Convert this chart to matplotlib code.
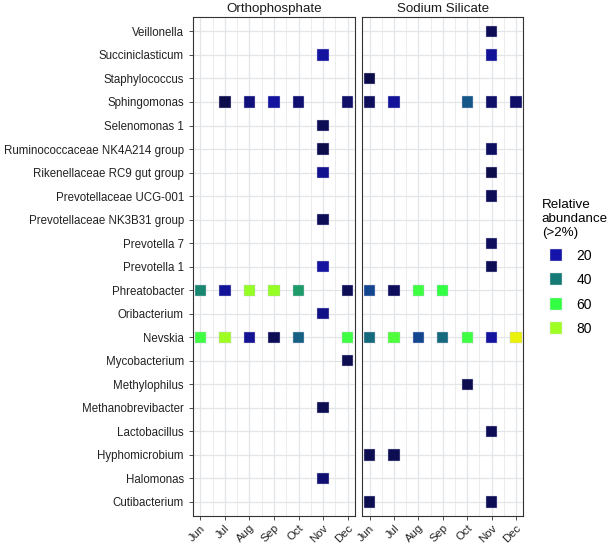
import matplotlib.pyplot as plt
import numpy as np
from matplotlib.colors import LinearSegmentedColormap
from matplotlib.lines import Line2D

plt.rcParams['font.family'] = ['Liberation Sans', 'DejaVu Sans']

months = ['Jun', 'Jul', 'Aug', 'Sep', 'Oct', 'Nov', 'Dec']
taxa = ['Cutibacterium', 'Halomonas', 'Hyphomicrobium', 'Lactobacillus',
        'Methanobrevibacter', 'Methylophilus', 'Mycobacterium', 'Nevskia',
        'Oribacterium', 'Phreatobacter', 'Prevotella 1', 'Prevotella 7',
        'Prevotellaceae NK3B31 group', 'Prevotellaceae UCG-001',
        'Rikenellaceae RC9 gut group', 'Ruminococcaceae NK4A214 group',
        'Selenomonas 1', 'Sphingomonas', 'Staphylococcus', 'Succiniclasticum',
        'Veillonella']

# Orthophosphate
ortho_taxa = ['Succiniclasticum', 'Sphingomonas', 'Sphingomonas', 'Sphingomonas', 'Sphingomonas',
              'Sphingomonas', 'Selenomonas 1', 'Ruminococcaceae NK4A214 group',
              'Rikenellaceae RC9 gut group', 'Prevotellaceae NK3B31 group', 'Prevotella 1',
              'Phreatobacter', 'Phreatobacter', 'Phreatobacter', 'Phreatobacter', 'Phreatobacter',
              'Phreatobacter', 'Oribacterium', 'Nevskia', 'Nevskia', 'Nevskia', 'Nevskia',
              'Nevskia', 'Nevskia', 'Mycobacterium', 'Methanobrevibacter', 'Halomonas']
ortho_months = ['Nov', 'Jul', 'Aug', 'Sep', 'Oct', 'Dec', 'Nov', 'Nov', 'Nov', 'Nov', 'Nov',
                'Jun', 'Jul', 'Aug', 'Sep', 'Oct', 'Dec', 'Nov',
                'Jun', 'Jul', 'Aug', 'Sep', 'Oct', 'Dec', 'Dec', 'Nov', 'Nov']
ortho_values = [18, 3, 12, 18, 10, 8, 5, 3, 15, 5, 18,
                42, 17, 78, 78, 45, 5, 14,
                62, 80, 16, 5, 35, 62, 4, 4, 10]

# Sodium Silicate
sodium_taxa = ['Veillonella', 'Succiniclasticum', 'Staphylococcus', 'Sphingomonas', 'Sphingomonas',
               'Sphingomonas', 'Sphingomonas', 'Sphingomonas', 'Ruminococcaceae NK4A214 group',
               'Rikenellaceae RC9 gut group', 'Prevotellaceae UCG-001', 'Prevotella 7',
               'Prevotella 1', 'Phreatobacter', 'Phreatobacter', 'Phreatobacter', 'Phreatobacter',
               'Nevskia', 'Nevskia', 'Nevskia', 'Nevskia', 'Nevskia', 'Nevskia', 'Nevskia',
               'Methylophilus', 'Lactobacillus', 'Hyphomicrobium', 'Hyphomicrobium',
               'Cutibacterium', 'Cutibacterium']
sodium_months = ['Nov', 'Nov', 'Jun', 'Jun', 'Jul', 'Oct', 'Nov', 'Dec', 'Nov', 'Nov', 'Nov',
                 'Nov', 'Nov', 'Jun', 'Jul', 'Aug', 'Sep',
                 'Jun', 'Jul', 'Aug', 'Sep', 'Oct', 'Nov', 'Dec',
                 'Oct', 'Nov', 'Jun', 'Jul', 'Jun', 'Nov']
sodium_values = [5, 17, 3, 6, 17, 33, 8, 8, 7, 3, 5, 6, 5,
                 30, 6, 62, 60,
                 37, 65, 30, 37, 62, 18, 95,
                 4, 5, 4, 4, 4, 5]

legend_values = [20, 40, 60, 80]

cmap = LinearSegmentedColormap.from_list(
    'abund', [(0.0, '#0b0b3b'), (0.2, '#1414aa'), (0.4, '#157a75'),
              (0.6, '#33ff44'), (0.8, '#a0ff22'), (1.0, '#ffee00')])

fig = plt.figure(figsize=(6.14, 5.46), dpi=100)
ax1 = fig.add_axes([0.3143, 0.0549, 0.2639, 0.9134])
ax2 = fig.add_axes([0.5900, 0.0549, 0.2623, 0.9134])

panels = [(ax1, 'Orthophosphate', ortho_taxa, ortho_months, ortho_values),
          (ax2, 'Sodium Silicate', sodium_taxa, sodium_months, sodium_values)]

for ax, title, tx, mo, va in panels:
    x = [months.index(m) for m in mo]
    y = [taxa.index(t) for t in tx]
    ax.scatter(x, y, c=va, cmap=cmap, vmin=0, vmax=100, marker='s', s=66,
               linewidths=0.3, edgecolors='#c8c8e0', zorder=3)
    ax.set_xlim(-0.3, 6.3)
    ax.set_ylim(-0.6, len(taxa) - 0.4)
    ax.set_xticks(range(len(months)))
    ax.set_xticks(np.arange(0.5, 6, 1), minor=True)
    ax.set_xticklabels(months, rotation=45, ha='right', rotation_mode='anchor', fontsize=8.2)
    ax.set_yticks(range(len(taxa)))
    ax.grid(True, which='major', color='#e2e6e8', lw=0.9, zorder=0)
    ax.grid(True, which='minor', axis='x', color='#e2e6e8', lw=0.5, zorder=0)
    ax.tick_params(which='minor', length=0)
    ax.tick_params(which='major', length=3, width=0.6, color='#333333', labelcolor='#222222')
    ax.tick_params(axis='x', pad=2)
    for sp in ax.spines.values():
        sp.set_color('#333333')
        sp.set_linewidth(0.8)
    ax.set_title(title, fontsize=9.6, color='#1a1a1a', pad=4)

ax1.set_yticklabels(taxa, fontsize=8.3)
ax2.set_yticklabels([])
ax2.tick_params(axis='y', length=0)

handles = [Line2D([0], [0], marker='s', ls='', markersize=8,
                  markerfacecolor=cmap(v / 100), markeredgecolor='#dddddd', markeredgewidth=0.3)
           for v in legend_values]
leg = fig.legend(handles, [str(v) for v in legend_values], title='Relative\nabundance\n(>2%)',
                 loc='center left', bbox_to_anchor=(0.862, 0.51), frameon=False,
                 fontsize=10, title_fontsize=9.6, alignment='left', handletextpad=0.5,
                 labelspacing=0.75)

fig.savefig('out.png', dpi=100)
